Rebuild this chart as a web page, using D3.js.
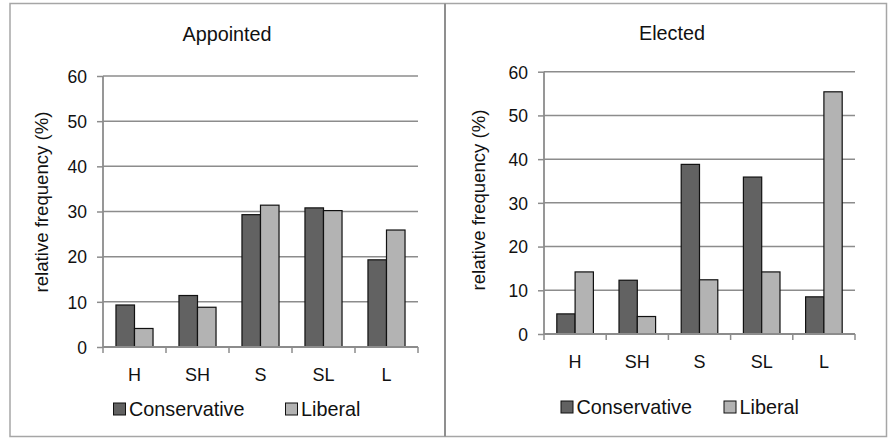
<!DOCTYPE html>
<html>
<head>
<meta charset="utf-8">
<script src="https://cdn.jsdelivr.net/npm/d3@7"></script>
<style>
  html, body { margin: 0; padding: 0; background: #fff; }
  svg { display: block; font-family: "Liberation Sans", Arial, sans-serif; }
</style>
</head>
<body>
<svg id="chart" width="888" height="438"></svg>
<script>
// Political orientation categories (H = hardline ... L = liberal leaning)
const categories = ["H", "SH", "S", "SL", "L"];
const seriesNames = ["Conservative", "Liberal"];
const yTicks = [0, 10, 20, 30, 40, 50, 60];

// Relative frequency (%) per category
const appointedConservative = [9.3, 11.4, 29.3, 30.8, 19.3];
const appointedLiberal = [4.1, 8.8, 31.4, 30.2, 25.9];
const electedConservative = [4.6, 12.3, 38.8, 35.9, 8.5];
const electedLiberal = [14.2, 4.0, 12.4, 14.2, 55.4];

const colors = { Conservative: "#626262", Liberal: "#b3b3b3" };
const gridColor = "#8c8c8c";
const textColor = "#111";

const svg = d3.select("#chart");

// panel frames
svg.append("rect")
  .attr("x", 10).attr("y", 3.5).attr("width", 876.5).attr("height", 433)
  .attr("fill", "none").attr("stroke", "#a6a6a6").attr("stroke-width", 1.5);
svg.append("line")
  .attr("x1", 445).attr("x2", 445).attr("y1", 3.5).attr("y2", 436.5)
  .attr("stroke", "#8f8f8f").attr("stroke-width", 2);

function drawPanel(cfg) {
  const g = svg.append("g");
  const x = d3.scaleBand().domain(categories).range([cfg.left, cfg.right]);
  const y = d3.scaleLinear().domain([0, 60]).range([cfg.bottom, cfg.top]);
  const inner = d3.scaleBand().domain(seriesNames)
    .range([0, x.bandwidth()]).paddingInner(0).paddingOuter(0.7);

  // title
  g.append("text")
    .attr("x", cfg.titleX).attr("y", cfg.titleY)
    .attr("text-anchor", "middle")
    .attr("font-size", 19.8).attr("fill", textColor)
    .text(cfg.title);

  // gridlines
  g.append("g").selectAll("line").data(yTicks.filter(d => d > 0)).join("line")
    .attr("x1", cfg.left).attr("x2", cfg.right)
    .attr("y1", d => y(d)).attr("y2", d => y(d))
    .attr("stroke", gridColor).attr("stroke-width", 1.5);

  // y axis
  const yAxis = g.append("g")
    .attr("transform", `translate(${cfg.left},0)`)
    .call(d3.axisLeft(y).tickValues(yTicks).tickSize(6).tickPadding(10));
  yAxis.select(".domain").attr("stroke", gridColor).attr("stroke-width", 1.8)
    .attr("d", `M0,${y(0)}V${y(60)}`);
  yAxis.selectAll(".tick line").attr("stroke", gridColor).attr("stroke-width", 1.5);
  yAxis.selectAll(".tick text")
    .attr("font-size", 17.5).attr("fill", textColor).attr("dy", "0.36em")
    .attr("font-family", "'Liberation Sans', Arial, sans-serif");

  // bars
  const series = [
    { name: "Conservative", values: cfg.conservative },
    { name: "Liberal", values: cfg.liberal }
  ];
  series.forEach(s => {
    g.append("g").selectAll("rect").data(categories).join("rect")
      .attr("x", c => x(c) + inner(s.name))
      .attr("y", (c, i) => y(s.values[i]))
      .attr("width", inner.bandwidth())
      .attr("height", (c, i) => y(0) - y(s.values[i]))
      .attr("fill", colors[s.name])
      .attr("stroke", "#111").attr("stroke-width", 1.2);
  });

  // x axis
  const xAxis = g.append("g")
    .attr("transform", `translate(0,${cfg.bottom})`)
    .call(d3.axisBottom(x).tickSize(0).tickPadding(21));
  xAxis.select(".domain").attr("stroke", gridColor).attr("stroke-width", 1.8)
    .attr("d", `M${cfg.left},0H${cfg.right}`);
  xAxis.selectAll(".tick text")
    .attr("font-size", 18).attr("fill", textColor)
    .attr("font-family", "'Liberation Sans', Arial, sans-serif");
  // category separators below the axis
  const edges = categories.map(c => x(c)).concat([cfg.right]);
  g.append("g").selectAll("line").data(edges).join("line")
    .attr("x1", d => d).attr("x2", d => d)
    .attr("y1", cfg.bottom).attr("y2", cfg.bottom + 6)
    .attr("stroke", gridColor).attr("stroke-width", 1.5);

  // y axis title
  g.append("text")
    .attr("transform", `translate(${cfg.yTitleX},${cfg.yTitleY}) rotate(-90)`)
    .attr("text-anchor", "middle")
    .attr("font-size", 18.6).attr("fill", textColor)
    .text("relative frequency (%)");

  // legend
  const lg = g.append("g");
  seriesNames.forEach((name, i) => {
    const lx = cfg.legendX[i];
    lg.append("rect")
      .attr("x", lx).attr("y", cfg.legendY - 13)
      .attr("width", 12).attr("height", 12)
      .attr("fill", colors[name]).attr("stroke", "#111").attr("stroke-width", 1);
    lg.append("text")
      .attr("x", lx + 15.5).attr("y", cfg.legendY)
      .attr("font-size", 19.8).attr("fill", textColor)
      .text(name);
  });
}

drawPanel({
  title: "Appointed", titleX: 227, titleY: 41,
  left: 103, right: 418, top: 76, bottom: 347,
  yTitleX: 47.5, yTitleY: 202,
  conservative: appointedConservative, liberal: appointedLiberal,
  legendX: [113.5, 285.5], legendY: 416
});

drawPanel({
  title: "Elected", titleX: 672, titleY: 40,
  left: 544, right: 855, top: 71.7, bottom: 334,
  yTitleX: 484.5, yTitleY: 200,
  conservative: electedConservative, liberal: electedLiberal,
  legendX: [561, 724], legendY: 414
});
</script>
</body>
</html>
